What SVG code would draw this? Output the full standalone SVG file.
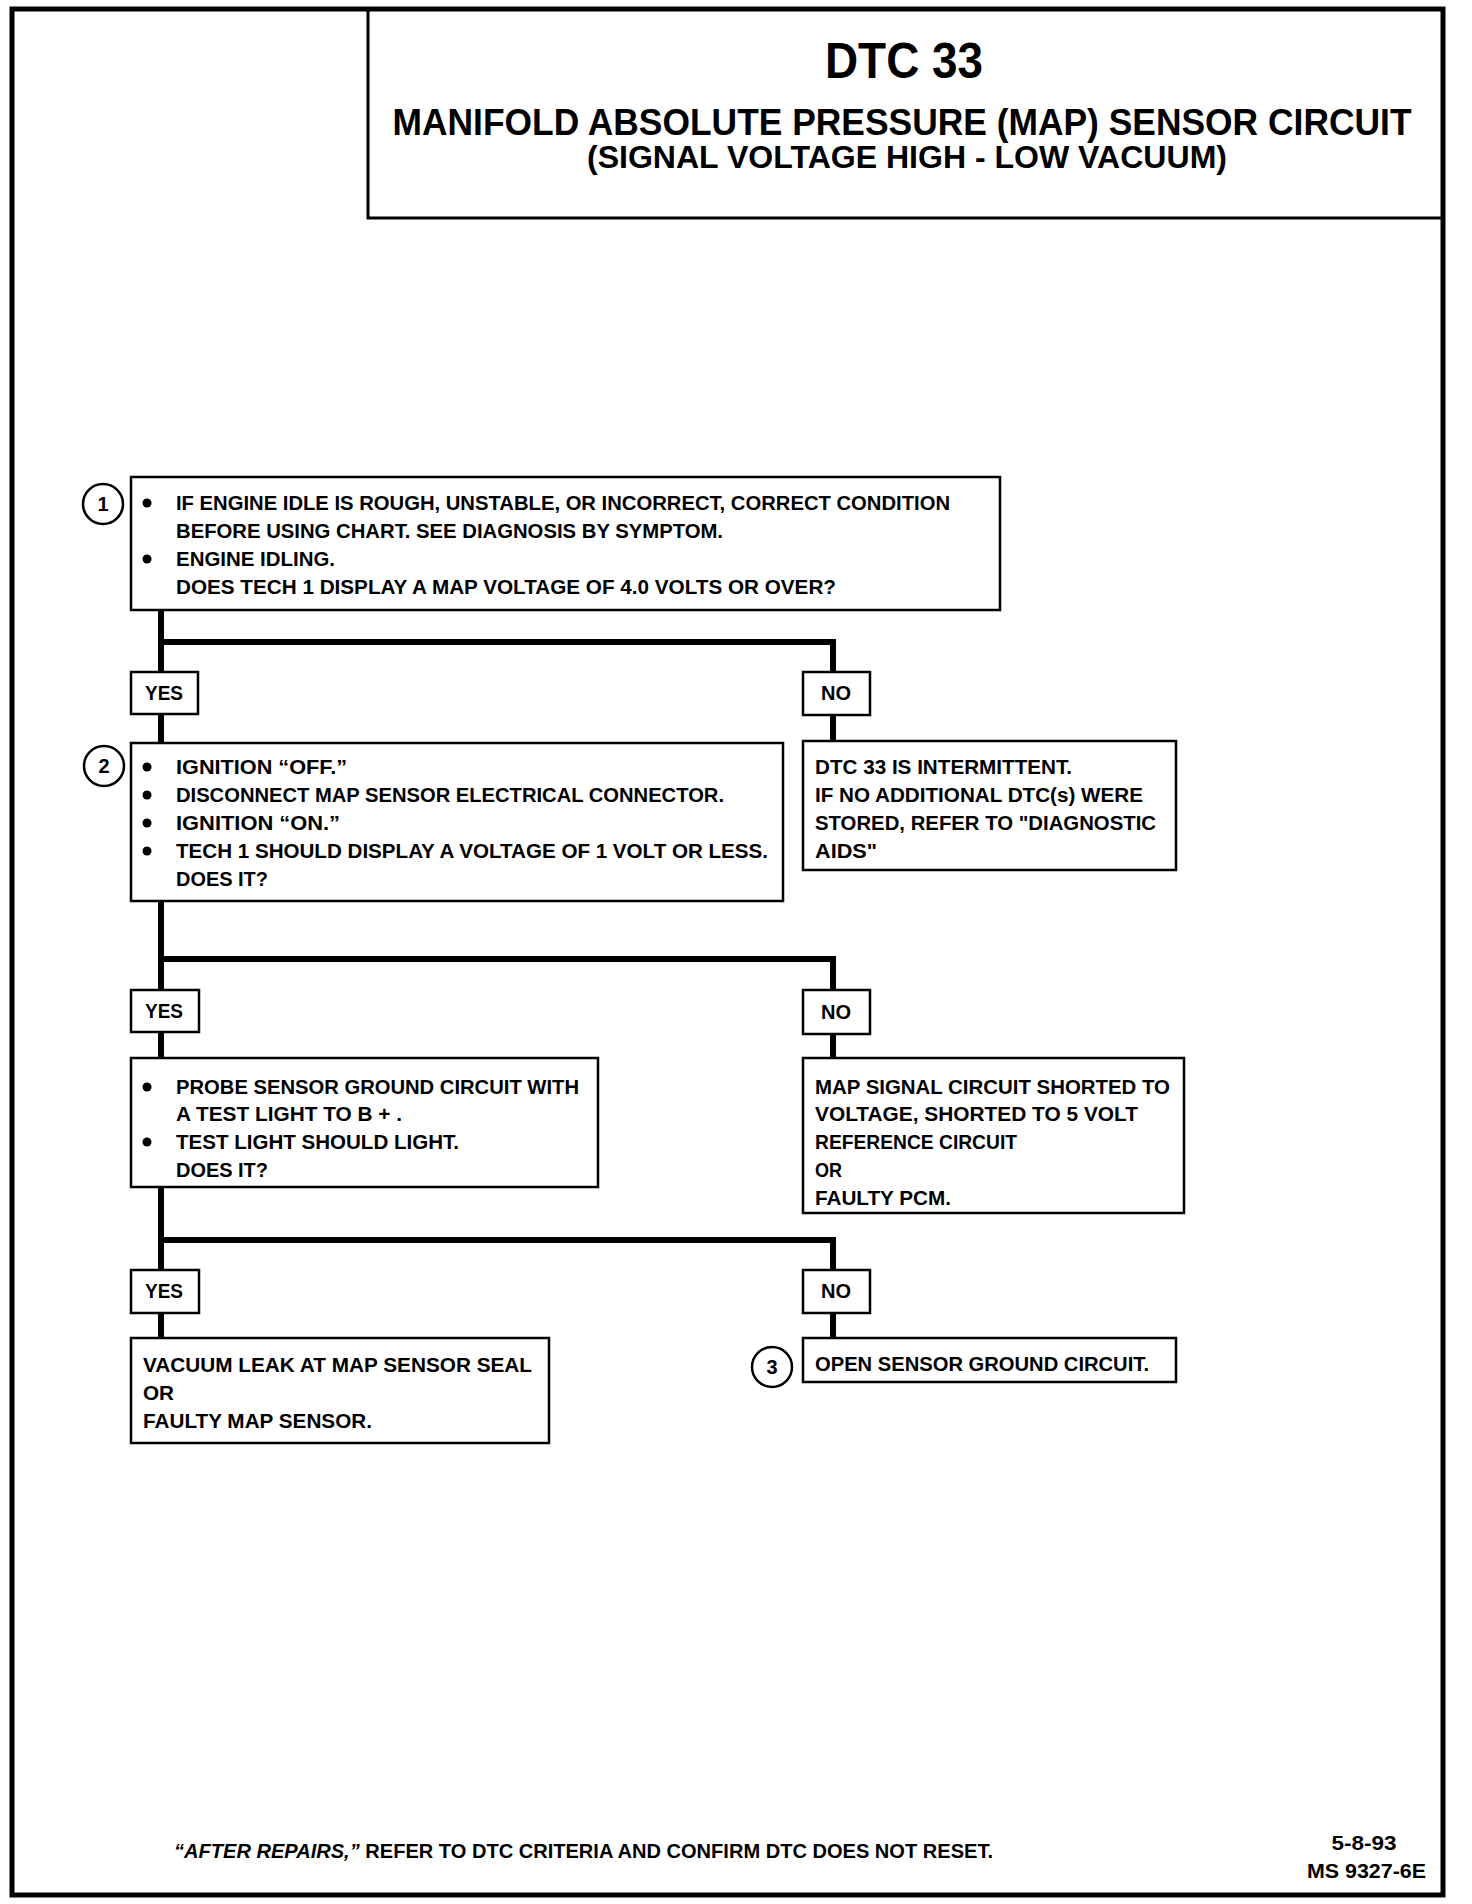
<svg xmlns="http://www.w3.org/2000/svg" width="1472" height="1904" viewBox="0 0 1472 1904">
<style>
text{font-family:"Liberation Sans",Arial,sans-serif;font-weight:bold;fill:#000}
.t{font-size:20px}
.lbl{font-size:20px;text-anchor:middle}
.box{fill:#fff;stroke:#000;stroke-width:2.5}
.yn{fill:#fff;stroke:#000;stroke-width:2.5}
.cir{fill:#fff;stroke:#000;stroke-width:2.5}
.wire{fill:none;stroke:#000;stroke-width:6;stroke-linejoin:miter}
.num{font-size:20px;text-anchor:middle}
</style>
<rect x="0" y="0" width="1472" height="1904" fill="#fff"/>
<g id="frame">
<rect x="12" y="9" width="1431" height="1886" fill="none" stroke="#000" stroke-width="5"/>
<polyline points="368,9 368,218 1443,218" fill="none" stroke="#000" stroke-width="3"/>
</g>
<g id="title">
<text x="904" y="78" font-size="50" text-anchor="middle" textLength="158" lengthAdjust="spacingAndGlyphs">DTC 33</text>
<text x="902" y="135" font-size="37" text-anchor="middle" textLength="1019" lengthAdjust="spacingAndGlyphs">MANIFOLD ABSOLUTE PRESSURE (MAP) SENSOR CIRCUIT</text>
<text x="907" y="168" font-size="31" text-anchor="middle" textLength="640" lengthAdjust="spacingAndGlyphs">(SIGNAL VOLTAGE HIGH - LOW VACUUM)</text>
</g>
<g id="connectors">
<polyline class="wire" points="161,610 161,672"/>
<polyline class="wire" points="161,642 833,642 833,672"/>
<line class="wire" x1="161" y1="714" x2="161" y2="743"/>
<line class="wire" x1="833" y1="715" x2="833" y2="741"/>
<polyline class="wire" points="161,901 161,990"/>
<polyline class="wire" points="161,959 833,959 833,990"/>
<line class="wire" x1="161" y1="1032" x2="161" y2="1058"/>
<line class="wire" x1="833" y1="1034" x2="833" y2="1058"/>
<polyline class="wire" points="161,1187 161,1270"/>
<polyline class="wire" points="161,1240 833,1240 833,1270"/>
<line class="wire" x1="161" y1="1313" x2="161" y2="1338"/>
<line class="wire" x1="833" y1="1313" x2="833" y2="1338"/>
</g>
<g id="step1">
<rect class="box" x="131" y="477" width="869" height="133"/>
<circle class="cir" cx="103" cy="504" r="20"/>
<text class="num" x="103" y="511">1</text>
<circle cx="147" cy="503" r="4.5"/>
<circle cx="147" cy="559" r="4.5"/>
<text class="t" x="176" y="510" textLength="774" lengthAdjust="spacingAndGlyphs">IF ENGINE IDLE IS ROUGH, UNSTABLE, OR INCORRECT, CORRECT CONDITION</text>
<text class="t" x="176" y="538" textLength="547" lengthAdjust="spacingAndGlyphs">BEFORE USING CHART.  SEE DIAGNOSIS BY SYMPTOM.</text>
<text class="t" x="176" y="566" textLength="159" lengthAdjust="spacingAndGlyphs">ENGINE IDLING.</text>
<text class="t" x="176" y="594" textLength="660" lengthAdjust="spacingAndGlyphs">DOES TECH 1 DISPLAY A MAP VOLTAGE OF 4.0 VOLTS OR OVER?</text>
</g>
<g id="yes1"><rect class="yn" x="131" y="672" width="67" height="42"/><text class="lbl" x="164" y="700" textLength="38" lengthAdjust="spacingAndGlyphs">YES</text></g>
<g id="no1"><rect class="yn" x="803" y="672" width="67" height="43"/><text class="lbl" x="836" y="700" textLength="30" lengthAdjust="spacingAndGlyphs">NO</text></g>
<g id="step2">
<rect class="box" x="131" y="743" width="652" height="158"/>
<circle class="cir" cx="104" cy="766" r="20"/>
<text class="num" x="104" y="773">2</text>
<circle cx="147" cy="767" r="4.5"/>
<circle cx="147" cy="795" r="4.5"/>
<circle cx="147" cy="823" r="4.5"/>
<circle cx="147" cy="851" r="4.5"/>
<text class="t" x="176" y="774" textLength="171" lengthAdjust="spacingAndGlyphs">IGNITION “OFF.”</text>
<text class="t" x="176" y="802" textLength="548" lengthAdjust="spacingAndGlyphs">DISCONNECT MAP SENSOR ELECTRICAL CONNECTOR.</text>
<text class="t" x="176" y="830" textLength="164" lengthAdjust="spacingAndGlyphs">IGNITION “ON.”</text>
<text class="t" x="176" y="858" textLength="592" lengthAdjust="spacingAndGlyphs">TECH 1 SHOULD DISPLAY A VOLTAGE OF 1 VOLT OR LESS.</text>
<text class="t" x="176" y="886" textLength="92" lengthAdjust="spacingAndGlyphs">DOES IT?</text>
</g>
<g id="intermittent">
<rect class="box" x="803" y="741" width="373" height="129"/>
<text class="t" x="815" y="774" textLength="257" lengthAdjust="spacingAndGlyphs">DTC 33 IS INTERMITTENT.</text>
<text class="t" x="815" y="802" textLength="328" lengthAdjust="spacingAndGlyphs">IF NO ADDITIONAL DTC(s) WERE</text>
<text class="t" x="815" y="830" textLength="341" lengthAdjust="spacingAndGlyphs">STORED, REFER TO "DIAGNOSTIC</text>
<text class="t" x="815" y="858" textLength="62" lengthAdjust="spacingAndGlyphs">AIDS"</text>
</g>
<g id="yes2"><rect class="yn" x="131" y="990" width="68" height="42"/><text class="lbl" x="164" y="1018" textLength="38" lengthAdjust="spacingAndGlyphs">YES</text></g>
<g id="no2"><rect class="yn" x="803" y="990" width="67" height="44"/><text class="lbl" x="836" y="1019" textLength="30" lengthAdjust="spacingAndGlyphs">NO</text></g>
<g id="step3">
<rect class="box" x="131" y="1058" width="467" height="129"/>
<circle cx="147" cy="1087" r="4.5"/>
<circle cx="147" cy="1142" r="4.5"/>
<text class="t" x="176" y="1094" textLength="403" lengthAdjust="spacingAndGlyphs">PROBE SENSOR GROUND CIRCUIT WITH</text>
<text class="t" x="176" y="1121" textLength="226" lengthAdjust="spacingAndGlyphs">A TEST LIGHT TO B + .</text>
<text class="t" x="176" y="1149" textLength="283" lengthAdjust="spacingAndGlyphs">TEST LIGHT SHOULD LIGHT.</text>
<text class="t" x="176" y="1177" textLength="92" lengthAdjust="spacingAndGlyphs">DOES IT?</text>
</g>
<g id="shorted">
<rect class="box" x="803" y="1058" width="381" height="155"/>
<text class="t" x="815" y="1094" textLength="355" lengthAdjust="spacingAndGlyphs">MAP SIGNAL CIRCUIT SHORTED TO</text>
<text class="t" x="815" y="1121" textLength="323" lengthAdjust="spacingAndGlyphs">VOLTAGE, SHORTED TO 5 VOLT</text>
<text class="t" x="815" y="1149" textLength="202" lengthAdjust="spacingAndGlyphs">REFERENCE CIRCUIT</text>
<text class="t" x="815" y="1177" textLength="27" lengthAdjust="spacingAndGlyphs">OR</text>
<text class="t" x="815" y="1205" textLength="136" lengthAdjust="spacingAndGlyphs">FAULTY PCM.</text>
</g>
<g id="yes3"><rect class="yn" x="131" y="1270" width="68" height="43"/><text class="lbl" x="164" y="1298" textLength="38" lengthAdjust="spacingAndGlyphs">YES</text></g>
<g id="no3"><rect class="yn" x="803" y="1270" width="67" height="43"/><text class="lbl" x="836" y="1298" textLength="30" lengthAdjust="spacingAndGlyphs">NO</text></g>
<g id="vacuum-leak">
<rect class="box" x="131" y="1338" width="418" height="105"/>
<text class="t" x="143" y="1372" textLength="389" lengthAdjust="spacingAndGlyphs">VACUUM LEAK AT MAP SENSOR SEAL</text>
<text class="t" x="143" y="1400" textLength="31" lengthAdjust="spacingAndGlyphs">OR</text>
<text class="t" x="143" y="1428" textLength="229" lengthAdjust="spacingAndGlyphs">FAULTY MAP SENSOR.</text>
</g>
<g id="open-ground">
<rect class="box" x="803" y="1338" width="373" height="44"/>
<circle class="cir" cx="772" cy="1367" r="20"/>
<text class="num" x="772" y="1374">3</text>
<text class="t" x="815" y="1371" textLength="334" lengthAdjust="spacingAndGlyphs">OPEN SENSOR GROUND CIRCUIT.</text>
</g>
<g id="footer">
<text class="t" x="174" y="1858" textLength="819" lengthAdjust="spacingAndGlyphs"><tspan font-style="italic">“AFTER REPAIRS,”</tspan> REFER TO DTC CRITERIA AND CONFIRM DTC DOES NOT RESET.</text>
<text class="t" x="1364" y="1850" text-anchor="middle" textLength="65" lengthAdjust="spacingAndGlyphs">5-8-93</text>
<text class="t" x="1307" y="1878" textLength="119" lengthAdjust="spacingAndGlyphs">MS 9327-6E</text>
</g>
</svg>
